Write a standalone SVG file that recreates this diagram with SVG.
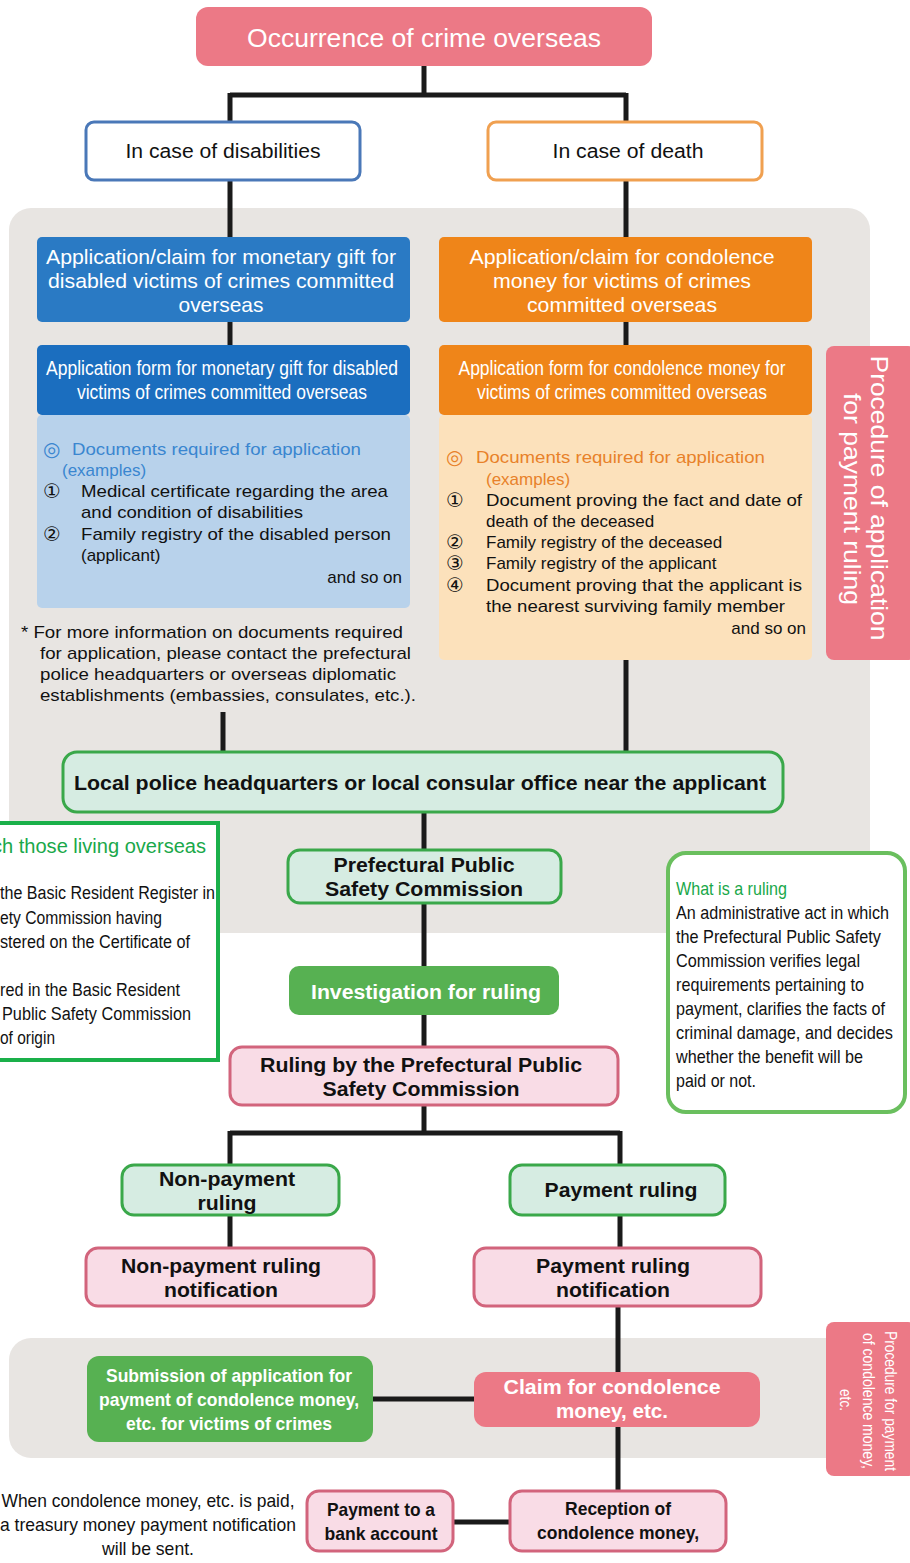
<svg xmlns="http://www.w3.org/2000/svg" width="910" height="1563" viewBox="0 0 910 1563">
<defs>
<style>
.c{stroke:#1a1a1a;stroke-width:5;fill:none}
text{font-family:"Liberation Sans",Arial,"DejaVu Sans",sans-serif;fill:#111}
.n{font-family:"Liberation Sans Narrow","Liberation Sans",Arial,sans-serif}
.b{font-weight:bold}
.w{fill:#fff}
.m{text-anchor:middle}
.e{text-anchor:end}
.num{font-family:"DejaVu Sans","Noto Sans CJK JP",sans-serif;font-size:20px}
.mint{fill:#d6ece2;stroke:#3aa84a;stroke-width:3}
.pl{fill:#f9dce6;stroke:#d2647c;stroke-width:3}
.gr{fill:#57b152}
.pk{fill:#ec7986}
.panel{fill:#e8e5e2}
.bl{fill:#3a86d0}
.or{fill:#e8812a}
.gt{fill:#1aa84a}
</style>
</defs>
<rect width="910" height="1563" fill="#fff"/>
<rect class="panel" x="9" y="208" width="861" height="725" rx="22"/>
<rect class="panel" x="9" y="1338" width="851" height="120" rx="22"/>

<g id="connectors">
<path class="c" d="M424 66V95M230 95H626M230 93V122M626 93V122"/>
<path class="c" d="M230 180V237M230 322V345M626 180V237M626 322V345"/>
<path class="c" d="M223 712V752M626 660V752"/>
<path class="c" d="M424 812V850M424 903V966M424 1015V1047M424 1105V1133M230 1133H620M230 1131V1165M620 1131V1165"/>
<path class="c" d="M230 1215V1248M620 1215V1248M618 1306V1372M373 1399H474M618 1427V1491M453 1522H510"/>
</g>

<g id="occurrence">
<rect class="pk" x="196" y="7" width="456" height="59" rx="12"/>
<text class="w m" x="424" y="47" font-size="26" textLength="354" lengthAdjust="spacingAndGlyphs">Occurrence of crime overseas</text>
</g>
<g id="disab">
<rect x="86" y="122" width="274" height="58" rx="8" fill="#fff" stroke="#4a78b8" stroke-width="3"/>
<text class="m" x="223" y="158" font-size="20" textLength="195" lengthAdjust="spacingAndGlyphs">In case of disabilities</text>
</g>
<g id="death">
<rect x="488" y="122" width="274" height="58" rx="8" fill="#fff" stroke="#f0a050" stroke-width="3"/>
<text class="m" x="628" y="158" font-size="20" textLength="151" lengthAdjust="spacingAndGlyphs">In case of death</text>
</g>

<g id="blue-claim">
<rect x="37" y="237" width="373" height="85" rx="5" fill="#2a7ac4"/>
<text class="w m" x="221" y="264" font-size="21" textLength="350" lengthAdjust="spacingAndGlyphs">Application/claim for monetary gift for</text>
<text class="w m" x="221" y="288" font-size="21" textLength="346" lengthAdjust="spacingAndGlyphs">disabled victims of crimes committed</text>
<text class="w m" x="221" y="312" font-size="21" textLength="85" lengthAdjust="spacingAndGlyphs">overseas</text>
</g>
<g id="orange-claim">
<rect x="439" y="237" width="373" height="85" rx="5" fill="#ef8519"/>
<text class="w m" x="622" y="264" font-size="21" textLength="305" lengthAdjust="spacingAndGlyphs">Application/claim for condolence</text>
<text class="w m" x="622" y="288" font-size="21" textLength="258" lengthAdjust="spacingAndGlyphs">money for victims of crimes</text>
<text class="w m" x="622" y="312" font-size="21" textLength="190" lengthAdjust="spacingAndGlyphs">committed overseas</text>
</g>

<g id="blue-form">
<rect x="37" y="415" width="373" height="193" rx="5" fill="#b8d2eb"/>
<rect x="37" y="345" width="373" height="70" rx="5" fill="#1b6ebf"/>
<text class="w m n" x="222" y="375" font-size="21" textLength="352" lengthAdjust="spacingAndGlyphs">Application form for monetary gift for disabled</text>
<text class="w m n" x="222" y="399" font-size="21" textLength="290" lengthAdjust="spacingAndGlyphs">victims of crimes committed overseas</text>
<text class="bl num" x="43" y="456">◎</text>
<text class="bl" x="72" y="455" font-size="17" textLength="289" lengthAdjust="spacingAndGlyphs">Documents required for application</text>
<text class="bl" x="62" y="476" font-size="17">(examples)</text>
<text class="num" x="43" y="498">①</text>
<text x="81" y="497" font-size="17" textLength="307" lengthAdjust="spacingAndGlyphs">Medical certificate regarding the area</text>
<text x="81" y="518" font-size="17" textLength="222" lengthAdjust="spacingAndGlyphs">and condition of disabilities</text>
<text class="num" x="43" y="541">②</text>
<text x="81" y="540" font-size="17" textLength="310" lengthAdjust="spacingAndGlyphs">Family registry of the disabled person</text>
<text x="81" y="561" font-size="17">(applicant)</text>
<text class="e" x="402" y="583" font-size="17">and so on</text>
</g>
<g id="note">
<text x="21" y="638" font-size="17" textLength="382" lengthAdjust="spacingAndGlyphs">* For more information on documents required</text>
<text x="40" y="659" font-size="17" textLength="371" lengthAdjust="spacingAndGlyphs">for application, please contact the prefectural</text>
<text x="40" y="680" font-size="17" textLength="356" lengthAdjust="spacingAndGlyphs">police headquarters or overseas diplomatic</text>
<text x="40" y="701" font-size="17" textLength="376" lengthAdjust="spacingAndGlyphs">establishments (embassies, consulates, etc.).</text>
</g>

<g id="orange-form">
<rect x="439" y="415" width="373" height="245" rx="5" fill="#fce1bb"/>
<rect x="439" y="345" width="373" height="70" rx="5" fill="#ef8519"/>
<text class="w m n" x="622" y="375" font-size="21" textLength="327" lengthAdjust="spacingAndGlyphs">Application form for condolence money for</text>
<text class="w m n" x="622" y="399" font-size="21" textLength="290" lengthAdjust="spacingAndGlyphs">victims of crimes committed overseas</text>
<text class="or num" x="446" y="464">◎</text>
<text class="or" x="476" y="463" font-size="17" textLength="289" lengthAdjust="spacingAndGlyphs">Documents required for application</text>
<text class="or" x="486" y="485" font-size="17">(examples)</text>
<text class="num" x="446" y="507">①</text>
<text x="486" y="506" font-size="17" textLength="316" lengthAdjust="spacingAndGlyphs">Document proving the fact and date of</text>
<text x="486" y="527" font-size="17">death of the deceased</text>
<text class="num" x="446" y="549">②</text>
<text x="486" y="548" font-size="17">Family registry of the deceased</text>
<text class="num" x="446" y="570">③</text>
<text x="486" y="569" font-size="17">Family registry of the applicant</text>
<text class="num" x="446" y="592">④</text>
<text x="486" y="591" font-size="17" textLength="316" lengthAdjust="spacingAndGlyphs">Document proving that the applicant is</text>
<text x="486" y="612" font-size="17" textLength="299" lengthAdjust="spacingAndGlyphs">the nearest surviving family member</text>
<text class="e" x="806" y="634" font-size="17">and so on</text>
</g>

<g id="label-ruling">
<rect class="pk" x="826" y="346" width="90" height="314" rx="8"/>
<text class="w m" transform="translate(871,498) rotate(90)" font-size="24" textLength="285" lengthAdjust="spacingAndGlyphs">Procedure of application</text>
<text class="w m" transform="translate(844,499) rotate(90)" font-size="24" textLength="212" lengthAdjust="spacingAndGlyphs">for payment ruling</text>
</g>

<g id="police">
<rect class="mint" x="63" y="752" width="720" height="60" rx="14"/>
<text class="b m" x="420" y="790" font-size="20" textLength="692" lengthAdjust="spacingAndGlyphs">Local police headquarters or local consular office near the applicant</text>
</g>

<g id="overseas-note">
<rect x="-10" y="823" width="228" height="237" fill="#fff" stroke="#1ab04a" stroke-width="4"/>
<text class="gt e" x="206" y="853" font-size="20" textLength="214" lengthAdjust="spacingAndGlyphs">ch those living overseas</text>
<text class="n" x="0" y="899" font-size="18" textLength="215" lengthAdjust="spacingAndGlyphs">the Basic Resident Register in</text>
<text class="n" x="0" y="924" font-size="18" textLength="162" lengthAdjust="spacingAndGlyphs">ety Commission having</text>
<text class="n" x="0" y="948" font-size="18" textLength="190" lengthAdjust="spacingAndGlyphs">stered on the Certificate of</text>
<text class="n" x="0" y="996" font-size="18" textLength="180" lengthAdjust="spacingAndGlyphs">red in the Basic Resident</text>
<text class="n" x="2" y="1020" font-size="18" textLength="189" lengthAdjust="spacingAndGlyphs">Public Safety Commission</text>
<text class="n" x="0" y="1044" font-size="18" textLength="55" lengthAdjust="spacingAndGlyphs">of origin</text>
</g>

<g id="ruling-note">
<rect x="668" y="853" width="237" height="259" rx="18" fill="#fff" stroke="#6abf5e" stroke-width="4"/>
<text class="gt n" x="676" y="895" font-size="19" textLength="111" lengthAdjust="spacingAndGlyphs">What is a ruling</text>
<text class="n" x="676" y="919" font-size="19" textLength="213" lengthAdjust="spacingAndGlyphs">An administrative act in which</text>
<text class="n" x="676" y="943" font-size="19" textLength="205" lengthAdjust="spacingAndGlyphs">the Prefectural Public Safety</text>
<text class="n" x="676" y="967" font-size="19" textLength="184" lengthAdjust="spacingAndGlyphs">Commission verifies legal</text>
<text class="n" x="676" y="991" font-size="19" textLength="188" lengthAdjust="spacingAndGlyphs">requirements pertaining to</text>
<text class="n" x="676" y="1015" font-size="19" textLength="209" lengthAdjust="spacingAndGlyphs">payment, clarifies the facts of</text>
<text class="n" x="676" y="1039" font-size="19" textLength="217" lengthAdjust="spacingAndGlyphs">criminal damage, and decides</text>
<text class="n" x="676" y="1063" font-size="19" textLength="187" lengthAdjust="spacingAndGlyphs">whether the benefit will be</text>
<text class="n" x="676" y="1087" font-size="19" textLength="80" lengthAdjust="spacingAndGlyphs">paid or not.</text>
</g>

<g id="pref">
<rect class="mint" x="288" y="850" width="273" height="53" rx="12"/>
<text class="b m" x="424" y="872" font-size="20" textLength="181" lengthAdjust="spacingAndGlyphs">Prefectural Public</text>
<text class="b m" x="424" y="896" font-size="20" textLength="198" lengthAdjust="spacingAndGlyphs">Safety Commission</text>
</g>
<g id="investigation">
<rect class="gr" x="289" y="966" width="270" height="49" rx="10"/>
<text class="b m w" x="426" y="999" font-size="20" textLength="230" lengthAdjust="spacingAndGlyphs">Investigation for ruling</text>
</g>
<g id="ruling">
<rect class="pl" x="230" y="1047" width="388" height="58" rx="12"/>
<text class="b m" x="421" y="1072" font-size="20" textLength="322" lengthAdjust="spacingAndGlyphs">Ruling by the Prefectural Public</text>
<text class="b m" x="421" y="1096" font-size="20" textLength="197" lengthAdjust="spacingAndGlyphs">Safety Commission</text>
</g>
<g id="nonpay">
<rect class="mint" x="122" y="1165" width="217" height="50" rx="12"/>
<text class="b m" x="227" y="1186" font-size="20" textLength="136" lengthAdjust="spacingAndGlyphs">Non-payment</text>
<text class="b m" x="227" y="1210" font-size="20" textLength="59" lengthAdjust="spacingAndGlyphs">ruling</text>
</g>
<g id="pay">
<rect class="mint" x="510" y="1165" width="215" height="50" rx="12"/>
<text class="b m" x="621" y="1197" font-size="20" textLength="153" lengthAdjust="spacingAndGlyphs">Payment ruling</text>
</g>
<g id="nonpay-notif">
<rect class="pl" x="86" y="1248" width="288" height="58" rx="12"/>
<text class="b m" x="221" y="1273" font-size="20" textLength="200" lengthAdjust="spacingAndGlyphs">Non-payment ruling</text>
<text class="b m" x="221" y="1297" font-size="20" textLength="114" lengthAdjust="spacingAndGlyphs">notification</text>
</g>
<g id="pay-notif">
<rect class="pl" x="474" y="1248" width="287" height="58" rx="12"/>
<text class="b m" x="613" y="1273" font-size="20" textLength="154" lengthAdjust="spacingAndGlyphs">Payment ruling</text>
<text class="b m" x="613" y="1297" font-size="20" textLength="114" lengthAdjust="spacingAndGlyphs">notification</text>
</g>

<g id="label-condolence">
<rect class="pk" x="826" y="1322" width="90" height="154" rx="8"/>
<text class="w m n" transform="translate(885,1401) rotate(90)" font-size="16" textLength="140" lengthAdjust="spacingAndGlyphs">Procedure for payment</text>
<text class="w m n" transform="translate(863,1401) rotate(90)" font-size="16" textLength="136" lengthAdjust="spacingAndGlyphs">of condolence money,</text>
<text class="w m n" transform="translate(840,1400) rotate(90)" font-size="16" textLength="22" lengthAdjust="spacingAndGlyphs">etc.</text>
</g>

<g id="submission">
<rect class="gr" x="87" y="1356" width="286" height="86" rx="12"/>
<text class="b m w" x="229" y="1382" font-size="19" textLength="246" lengthAdjust="spacingAndGlyphs">Submission of application for</text>
<text class="b m w" x="229" y="1406" font-size="19" textLength="260" lengthAdjust="spacingAndGlyphs">payment of condolence money,</text>
<text class="b m w" x="229" y="1430" font-size="19" textLength="206" lengthAdjust="spacingAndGlyphs">etc. for victims of crimes</text>
</g>
<g id="claim">
<rect class="pk" x="474" y="1372" width="286" height="55" rx="12"/>
<text class="b m w" x="612" y="1394" font-size="20" textLength="217" lengthAdjust="spacingAndGlyphs">Claim for condolence</text>
<text class="b m w" x="612" y="1418" font-size="20" textLength="112" lengthAdjust="spacingAndGlyphs">money, etc.</text>
</g>
<g id="reception">
<rect class="pl" x="510" y="1491" width="216" height="60" rx="12"/>
<text class="b m" x="618" y="1515" font-size="19" textLength="106" lengthAdjust="spacingAndGlyphs">Reception of</text>
<text class="b m" x="618" y="1539" font-size="19" textLength="162" lengthAdjust="spacingAndGlyphs">condolence money,</text>
</g>
<g id="bank">
<rect class="pl" x="307" y="1491" width="146" height="60" rx="12"/>
<text class="b m" x="381" y="1516" font-size="19" textLength="108" lengthAdjust="spacingAndGlyphs">Payment to a</text>
<text class="b m" x="381" y="1540" font-size="19" textLength="113" lengthAdjust="spacingAndGlyphs">bank account</text>
</g>
<g id="treasury-note">
<text class="m n" x="148" y="1507" font-size="19" textLength="293" lengthAdjust="spacingAndGlyphs">When condolence money, etc. is paid,</text>
<text class="m n" x="148" y="1531" font-size="19" textLength="296" lengthAdjust="spacingAndGlyphs">a treasury money payment notification</text>
<text class="m n" x="148" y="1555" font-size="19" textLength="92" lengthAdjust="spacingAndGlyphs">will be sent.</text>
</g>
</svg>
